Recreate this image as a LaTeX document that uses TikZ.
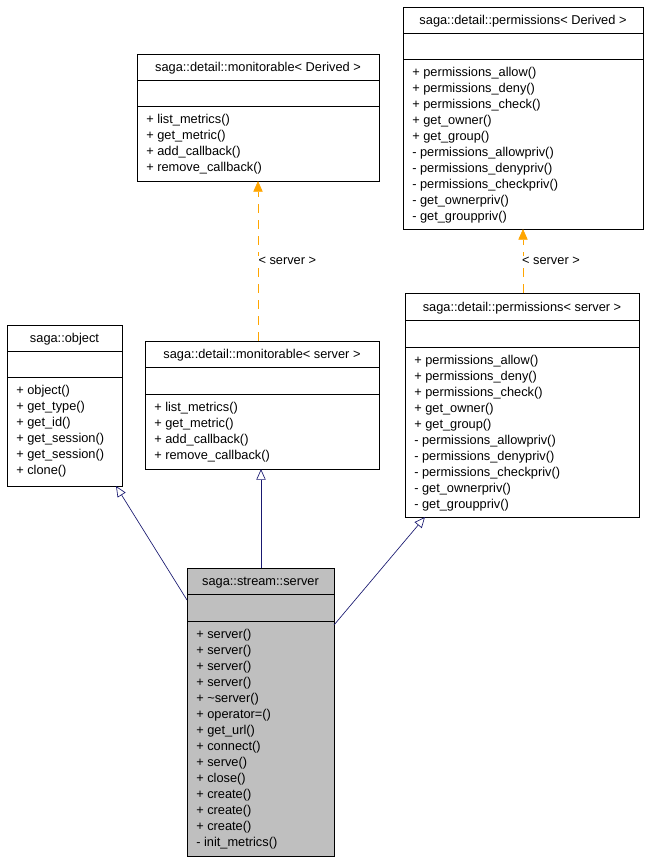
\documentclass[tikz,border=0pt]{standalone}
\usepackage{fontspec}
\setmainfont{Liberation Sans}
\usetikzlibrary{arrows.meta,fit}
\tikzset{
  px/.style={x=0.75pt,y=-0.75pt},
  boxline/.style={draw=black,line width=0.6pt},
  txt/.style={anchor=base west,inner sep=0pt,font=\fontsize{9.6}{11}\selectfont},
  ttl/.style={anchor=base,inner sep=0pt,font=\fontsize{9.6}{11}\selectfont},
  inherit/.style={draw=midblue,line width=0.5pt,-{Triangle[open,length=8pt,width=7pt]}},
  tmpl/.style={draw=orange,line width=0.5pt,dash pattern=on 7pt off 5pt,-{Triangle[length=8pt,width=7pt,fill=orange]}},
  lbl/.style={inner sep=1pt,font=\fontsize{9.6}{11}\selectfont,fill=white}
}
\definecolor{midblue}{RGB}{25,25,112}
\definecolor{orange}{RGB}{255,165,0}
\definecolor{grayfill}{RGB}{191,191,191}
% name, x1,y1,x2,y2, sep1, sep2, title, methods
\newcommand\umlbox[9]{%
  \node[fit={(#2,#3)(#4,#5)},inner sep=0pt,boxline] (#1) {};
  \draw[boxline] (#2,#6) -- (#4,#6);
  \draw[boxline] (#2,#7) -- (#4,#7);
  \node[ttl] at ({(#2+#4)/2},{#6-9}) {#8};
  \foreach \t [count=\i from 0] in {#9}
    \node[txt] at (#2+9,{#7+17+16*\i}) {\t};
}
\begin{document}
\begin{tikzpicture}[px]
\useasboundingbox (0,0) rectangle (651,861);
\fill[grayfill] (187,568) rectangle (334,856);
\umlbox{monD}{137}{54}{379}{181}{80}{106}{saga::detail::monitorable< Derived >}{+ list\_metrics(),+ get\_metric(),+ add\_callback(),+ remove\_callback()}
\umlbox{perD}{403}{7}{643}{229}{33}{59}{saga::detail::permissions< Derived >}{+ permissions\_allow(),+ permissions\_deny(),+ permissions\_check(),+ get\_owner(),+ get\_group(),- permissions\_allowpriv(),- permissions\_denypriv(),- permissions\_checkpriv(),- get\_ownerpriv(),- get\_grouppriv()}
\umlbox{obj}{7}{325}{122}{486}{351}{377}{saga::object}{+ object(),+ get\_type(),+ get\_id(),+ get\_session(),+ get\_session(),+ clone()}
\umlbox{monS}{145}{341}{379}{469}{367}{394}{saga::detail::monitorable< server >}{+ list\_metrics(),+ get\_metric(),+ add\_callback(),+ remove\_callback()}
\umlbox{perS}{405}{293}{639}{517}{320}{347}{saga::detail::permissions< server >}{+ permissions\_allow(),+ permissions\_deny(),+ permissions\_check(),+ get\_owner(),+ get\_group(),- permissions\_allowpriv(),- permissions\_denypriv(),- permissions\_checkpriv(),- get\_ownerpriv(),- get\_grouppriv()}
\umlbox{srv}{187}{568}{334}{856}{594}{621}{saga::stream::server}{+ server(),+ server(),+ server(),+ server(),+ \textasciitilde server(),+ operator=(),+ get\_url(),+ connect(),+ serve(),+ close(),+ create(),+ create(),+ create(),- init\_metrics()}
\coordinate (a1) at (187,600); \coordinate (a1e) at (116,486);
\coordinate (a2) at (261,568); \coordinate (a2e) at (261,469);
\coordinate (a3) at (334,625); \coordinate (a3e) at (425,517);
\draw[inherit] (a1) -- (a1e);
\draw[inherit] (a2) -- (a2e);
\draw[inherit] (a3) -- (a3e);
\coordinate (t1) at (258,341); \coordinate (t1e) at (258,181);
\coordinate (t2) at (523,293); \coordinate (t2e) at (523,229);
\draw[tmpl] (t1) -- node[lbl,xshift=22pt]{< server >} (t1e);
\draw[tmpl] (t2) -- node[lbl,xshift=21pt]{< server >} (t2e);
\end{tikzpicture}
\end{document}
